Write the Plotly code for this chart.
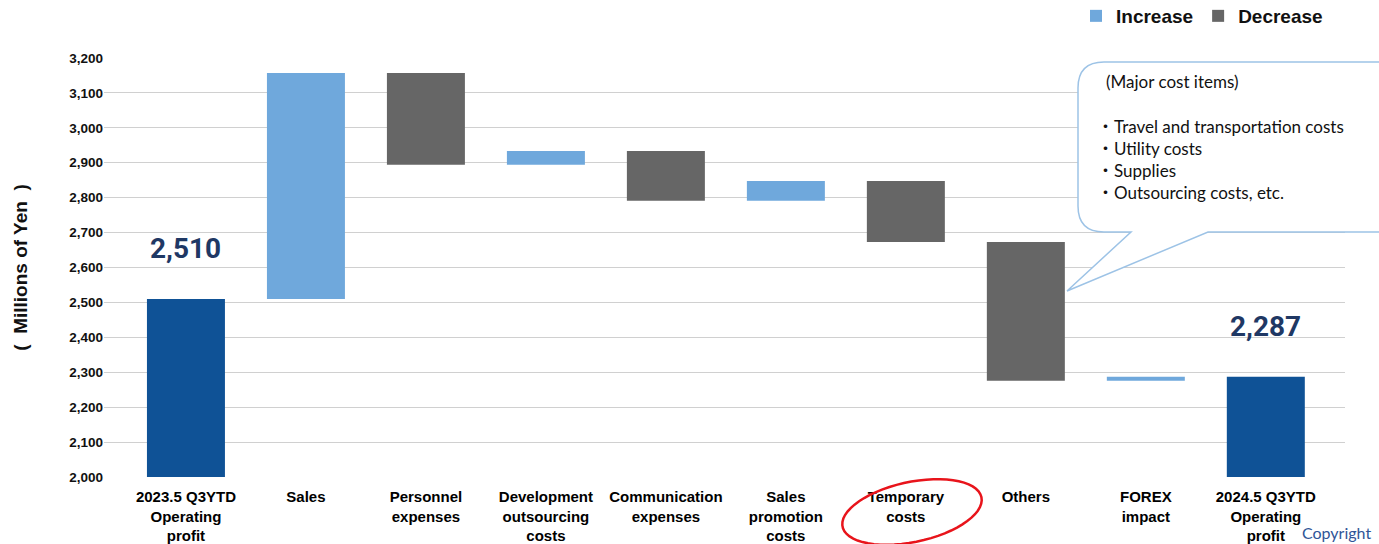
"""Operating profit bridge: 2023.5 Q3YTD -> 2024.5 Q3YTD (millions of yen)."""
import numpy as np
import plotly.graph_objects as go

# ---- data -------------------------------------------------------------
categories = [
    "2023.5 Q3YTD<br>Operating<br>profit",
    "Sales",
    "Personnel<br>expenses",
    "Development<br>outsourcing<br>costs",
    "Communication<br>expenses",
    "Sales<br>promotion<br>costs",
    "Temporary<br>costs",
    "Others",
    "FOREX<br>impact",
    "2024.5 Q3YTD<br>Operating<br>profit",
]
start_value = 2510
deltas = [647, -263, 40, -143, 57, -175, -397, 11]
end_value = 2287

y_tickvals = list(range(2000, 3201, 100))
callout_lines = [
    "(Major cost items)",
    "・Travel and transportation costs",
    "・Utility costs",
    "・Supplies",
    "・Outsourcing costs, etc.",
]

COLOR_INC = "#6FA8DC"
COLOR_DEC = "#666666"
COLOR_TOTAL = "#0F5296"
COLOR_LABEL = "#1F3864"
FONT = "Liberation Sans, Arial, sans-serif"
W, H = 1379, 544

# plot area in pixels (used only to place the decorations)
L, R, T, B = 104, 1345, 58, 477


def px_x(px):
    return (px - L) / (R - L)


def px_y(py):
    return (B - py) / (B - T)


# ---- running bases ----------------------------------------------------
inc_x, inc_base, inc_h = [], [], []
dec_x, dec_base, dec_h = [], [], []
level = start_value
for cat, d in zip(categories[1:-1], deltas):
    if d >= 0:
        inc_x.append(cat)
        inc_base.append(level)
        inc_h.append(d)
    else:
        dec_x.append(cat)
        dec_base.append(level + d)
        dec_h.append(-d)
    level += d

fig = go.Figure()
fig.add_trace(go.Bar(
    x=inc_x, y=inc_h, base=inc_base, name="Increase",
    marker=dict(color=COLOR_INC, line=dict(width=0)), width=0.65,
))
fig.add_trace(go.Bar(
    x=dec_x, y=dec_h, base=dec_base, name="Decrease",
    marker=dict(color=COLOR_DEC, line=dict(width=0)), width=0.65,
))
fig.add_trace(go.Bar(
    x=[categories[0], categories[-1]], y=[start_value, end_value], base=[0, 0],
    marker=dict(color=COLOR_TOTAL, line=dict(width=0)), width=0.65,
    showlegend=False,
))

# value labels over the two totals
for cat, val in [(categories[0], start_value), (categories[-1], end_value)]:
    fig.add_annotation(
        x=cat, y=val, text=f"{val:,}", showarrow=False,
        yanchor="bottom", yshift=32,
        font=dict(family="Roboto, sans-serif", size=28, color=COLOR_LABEL, weight="bold"),
    )

# callout bubble with tail pointing at "Others"
bl, bt, br, bb, r = 1078, 62, 1420, 232, 26
pts = [
    f"M {px_x(bl + r)},{px_y(bt)}",
    f"L {px_x(br - r)},{px_y(bt)}",
    f"L {px_x(br)},{px_y(bt + r)}",
    f"L {px_x(br)},{px_y(bb - r)}",
    f"L {px_x(br - r)},{px_y(bb)}",
    f"L {px_x(1208)},{px_y(bb)}",
    f"L {px_x(1067)},{px_y(291)}",
    f"L {px_x(1131)},{px_y(bb)}",
    f"L {px_x(bl + r)},{px_y(bb)}",
    f"Q {px_x(bl)},{px_y(bb)} {px_x(bl)},{px_y(bb - r)}",
    f"L {px_x(bl)},{px_y(bt + r)}",
    f"Q {px_x(bl)},{px_y(bt)} {px_x(bl + r)},{px_y(bt)}",
    "Z",
]
fig.add_shape(type="path", xref="paper", yref="paper", path=" ".join(pts),
              fillcolor="white", line=dict(color="#9DC3E6", width=1.5), layer="above")

line_y = [82, 126, 148, 170, 192]
line_x = [1104, 1095, 1095, 1095, 1095]
for txt, xx, yy in zip(callout_lines, line_x, line_y):
    fig.add_annotation(
        xref="paper", yref="paper", x=px_x(xx), y=px_y(yy), text=txt,
        showarrow=False, xanchor="left", yanchor="middle",
        font=dict(family="Lato, Noto Sans CJK JP, sans-serif", size=17, color="#111111"),
    )

# hand-drawn red ellipse around "Temporary costs"
t = np.linspace(0, 2 * np.pi, 60)
cx, cy, ax_, ay_, rot = 912, 512, 71, 30, np.deg2rad(-12)
ex = cx + ax_ * np.cos(t) * np.cos(rot) - ay_ * np.sin(t) * np.sin(rot)
ey = cy + ax_ * np.cos(t) * np.sin(rot) + ay_ * np.sin(t) * np.cos(rot)
ell = "M " + " L ".join(f"{px_x(a)},{px_y(b)}" for a, b in zip(ex, ey)) + " Z"
fig.add_shape(type="path", xref="paper", yref="paper", path=ell,
              line=dict(color="#E8141B", width=2.5), fillcolor="rgba(0,0,0,0)")

fig.add_annotation(
    xref="paper", yref="paper", x=px_x(1300), y=px_y(532), text="Copyright",
    showarrow=False, xanchor="left", yanchor="middle",
    font=dict(family="Lato, sans-serif", size=16, color="#2F5597"),
)

fig.update_layout(
    width=W, height=H,
    margin=dict(l=L, r=W - R, t=T, b=H - B, autoexpand=False),
    paper_bgcolor="white", plot_bgcolor="white",
    barmode="overlay",
    font=dict(family=FONT, color="#000000"),
    legend=dict(
        orientation="h", xref="container", yref="container",
        x=1328 / W, xanchor="right", y=1 - 16 / H, yanchor="middle",
        font=dict(family=FONT, size=19, weight="bold", color="#111111"),
        itemwidth=30, tracegroupgap=0,
    ),
    xaxis=dict(
        categoryorder="array", categoryarray=categories,
        range=[-0.683, 9.66], automargin=False,
        tickfont=dict(family=FONT, size=15, weight="bold", color="#000000"),
        ticks="outside", ticklen=6, tickcolor="rgba(0,0,0,0)",
        showgrid=False, showline=False, zeroline=False,
    ),
    yaxis=dict(
        range=[2000, 3200], tickvals=y_tickvals, tickformat=",", automargin=False,
        tickfont=dict(family=FONT, size=13.5, weight="bold", color="#111111"),
        showgrid=True, gridcolor="#D0D0D0", gridwidth=1.3,
        zeroline=False, showline=False,
        title=dict(text="(\u00a0\u00a0Millions of Yen\u00a0\u00a0)", standoff=36,
                   font=dict(family=FONT, size=19, weight="bold", color="#111111")),
    ),
)

fig.write_html(
    "out.html",
    config={"displayModeBar": False},
    post_script="document.body.style.margin = '0';",
)
